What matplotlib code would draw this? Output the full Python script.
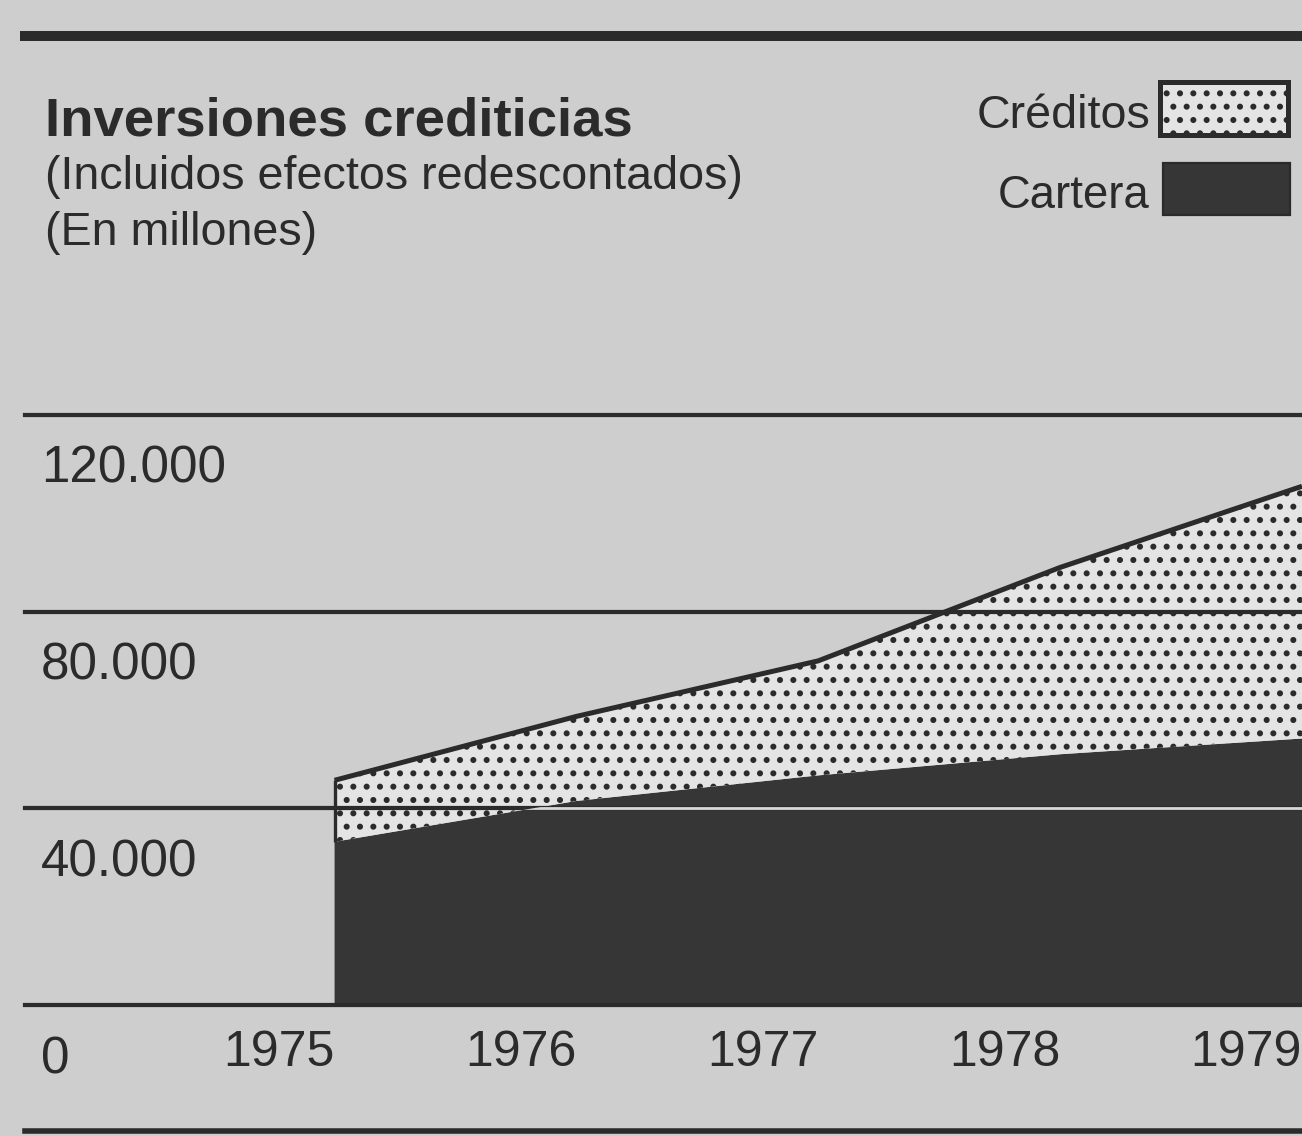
import numpy as np
import matplotlib
matplotlib.use("Agg")
import matplotlib.pyplot as plt
from matplotlib.patches import Rectangle
from matplotlib.lines import Line2D

# data (millones)
years = [1975, 1976, 1977, 1978, 1979]
cartera = [33200, 41500, 46700, 51000, 54200]
creditos = [12500, 17200, 23300, 38000, 51300]
ytick_vals = [0, 40000, 80000, 120000]
ytick_labels = ["0", "40.000", "80.000", "120.000"]

BG = "#cecece"
INK = "#2b2b2b"
FILL = "#363636"
DOTS = "#e4e4e4"

plt.rcParams['font.family'] = ['Liberation Sans', 'DejaVu Sans']
plt.rcParams['hatch.linewidth'] = 3.0
plt.rcParams['hatch.color'] = INK

W, H = 1302, 1136
def fx(px):
    return px / W
def fy(py):
    return 1 - py / H

fig = plt.figure(figsize=(W / 80, H / 80), dpi=80, facecolor=BG)
ax = fig.add_axes([fx(25), fy(1005), fx(1302) - fx(25), fy(415) - fy(1005)])
ax.set_xlim(1973.72, 1979)
ax.set_ylim(0, 120000)
ax.axis('off')

x = np.array(years)
c = np.array(cartera)
t = c + np.array(creditos)

dark = ax.fill_between(x, 0, c, facecolor=FILL, edgecolor='none', zorder=2)
dots = ax.fill_between(x, c, t, facecolor=DOTS, edgecolor=INK, hatch='.', lw=0, zorder=2)
ax.plot(x, t, color=INK, lw=4.5, zorder=4, solid_capstyle='butt')
ax.vlines(x[0], c[0], t[0], color=INK, lw=3, zorder=4)

for v, lab in zip(ytick_vals, ytick_labels):
    ax.axhline(v, color=INK, lw=3.8, zorder=3, clip_on=False)
    if v > 0:
        wl = ax.axhline(v, color="#d8d8d8", lw=2.5, zorder=3.5)
        wl.set_clip_path(dark.get_paths()[0], ax.transData)
    ax.annotate(lab, xy=(0, v), xycoords=('axes fraction', 'data'),
                xytext=(16, -68), textcoords='offset pixels',
                ha='left', va='baseline', fontsize=46, color=INK)

for yr in years:
    ax.annotate(str(yr), xy=(yr - 0.23, 0), xytext=(0, -61), textcoords='offset pixels',
                ha='center', va='baseline', fontsize=45, color=INK,
                annotation_clip=False)

# titles
fig.text(fx(45), fy(135), "Inversiones crediticias", fontsize=49, weight='bold',
         va='baseline', color=INK)
fig.text(fx(45), fy(189), "(Incluidos efectos redescontados)", fontsize=42,
         va='baseline', color=INK)
fig.text(fx(45), fy(245), "(En millones)", fontsize=42, va='baseline', color=INK)

# legend
fig.text(fx(1150), fy(128), "Créditos", fontsize=42, ha='right', va='baseline', color=INK)
fig.text(fx(1150), fy(208), "Cartera", fontsize=41, ha='right', va='baseline', color=INK)
fig.patches.append(Rectangle((fx(1160), fy(135)), 128 / W, 53 / H, transform=fig.transFigure,
                             facecolor=DOTS, edgecolor=INK, hatch='.', lw=4.5))
fig.patches.append(Rectangle((fx(1163), fy(215)), 127 / W, 52 / H, transform=fig.transFigure,
                             facecolor=FILL, edgecolor=INK, lw=2))

# rules
fig.add_artist(Line2D([fx(25), 1], [fy(36), fy(36)], lw=9, color=INK))
fig.add_artist(Line2D([fx(25), 1], [fy(1131), fy(1131)], lw=5, color=INK))

fig.savefig("out.png", dpi=80, facecolor=BG)
